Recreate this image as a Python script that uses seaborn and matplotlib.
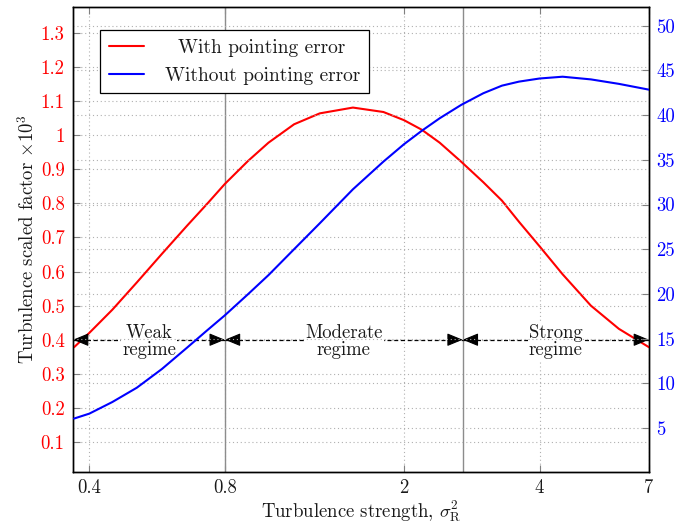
import matplotlib
matplotlib.use("Agg")
import matplotlib.pyplot as plt
import seaborn as sns
import pandas as pd
from matplotlib.ticker import FixedLocator, FixedFormatter, NullLocator

# Turbulence strength (Rytov variance) sample points
sigma_r2 = [0.37, 0.40, 0.45, 0.51, 0.58, 0.66, 0.73, 0.80, 0.90, 1.00, 1.14, 1.30,
            1.54, 1.80, 2.00, 2.19, 2.40, 2.68, 3.00, 3.30, 3.60, 4.00, 4.50, 5.20,
            6.00, 7.00]
# Scaled factor (x10^3), left axis
with_pe = [0.378, 0.420, 0.488, 0.568, 0.652, 0.735, 0.798, 0.857, 0.924, 0.978,
           1.032, 1.064, 1.081, 1.068, 1.044, 1.016, 0.978, 0.922, 0.862, 0.808,
           0.746, 0.674, 0.592, 0.500, 0.432, 0.378]
# Scaled factor, right axis
without_pe = [6.05, 6.6, 7.9, 9.5, 11.6, 14.0, 15.9, 17.6, 19.95, 22.1, 25.0, 27.9,
              31.7, 34.8, 36.75, 38.25, 39.65, 41.15, 42.45, 43.3, 43.75, 44.1, 44.3,
              44.0, 43.5, 42.85]

x_ticks = [0.4, 0.8, 2, 4, 7]
x_tick_labels = ["0.4", "0.8", "2", "4", "7"]
left_ticks = [0.1, 0.2, 0.3, 0.4, 0.5, 0.6, 0.7, 0.8, 0.9, 1.0, 1.1, 1.2, 1.3]
left_tick_labels = ["0.1", "0.2", "0.3", "0.4", "0.5", "0.6", "0.7", "0.8", "0.9",
                    "1", "1.1", "1.2", "1.3"]
right_ticks = [5, 10, 15, 20, 25, 30, 35, 40, 45, 50]
right_tick_labels = [str(t) for t in right_ticks]

regime_bounds = [0.368, 0.8, 2.7, 7.0]
regime_names = ["Weak\nregime", "Moderate\nregime", "Strong\nregime"]
regime_level = 0.4

sns.set_theme(style="white")
plt.rcParams["font.family"] = ["cmr10", "DejaVu Serif"]
plt.rcParams["mathtext.fontset"] = "cm"
plt.rcParams["axes.formatter.use_mathtext"] = True

FS = 13.5
TXT = "#1a1a1a"

df = pd.DataFrame({"s": sigma_r2, "w": with_pe, "wo": without_pe})

fig = plt.figure(figsize=(6.97, 5.27), dpi=100)
ax = fig.add_axes([73 / 697, 1 - 472 / 527, (649 - 73) / 697, (472 - 7) / 527])
ax2 = ax.twinx()

ax.set_xscale("log")
ax.set_xlim(0.368, 7.0)
ax.set_ylim(0.012, 1.376)
ax2.set_ylim(0.07, 52.1)

grid_kw = dict(color="#b0b0b0", linestyle=(0, (1, 2.5)), linewidth=0.8, zorder=0)
for t in x_ticks:
    ax.axvline(t, **grid_kw)
for t in left_ticks:
    ax.axhline(t, **grid_kw)
for t in right_ticks:
    ax2.axhline(t, **grid_kw)

for b in regime_bounds[1:3]:
    ax.axvline(b, color="#8c8c8c", linewidth=1.0, zorder=1)

sns.lineplot(data=df, x="s", y="w", ax=ax, color="#ff0000", linewidth=1.5,
             label="  With pointing error", legend=False, zorder=3)
sns.lineplot(data=df, x="s", y="wo", ax=ax2, color="#0000ff", linewidth=1.5,
             label="Without pointing error", legend=False, zorder=3)

# Regime spans: dashed line with a filled head at each end, label on top
head = dict(arrowstyle="-|>,head_length=0.8,head_width=0.33", color="black",
            linewidth=0.8, shrinkA=0, shrinkB=0)
for (a, b), name in zip(zip(regime_bounds[:-1], regime_bounds[1:]), regime_names):
    ax.plot([a, b], [regime_level, regime_level], color="black", linewidth=0.9,
            linestyle=(0, (3.2, 2.2)), zorder=4)
    ax.annotate("", xy=(a, regime_level), xytext=(7.5, 0),
                textcoords="offset points", arrowprops=head, zorder=5)
    ax.annotate("", xy=(b, regime_level), xytext=(-7.5, 0),
                textcoords="offset points", arrowprops=head, zorder=5)
    xc = (a * b) ** 0.5
    ax.text(xc, regime_level - 0.006, name, ha="center", va="center", fontsize=FS,
            linespacing=0.95, color=TXT, zorder=6,
            bbox=dict(facecolor="white", edgecolor="none", pad=1.0))

ax.xaxis.set_major_locator(FixedLocator(x_ticks))
ax.xaxis.set_major_formatter(FixedFormatter(x_tick_labels))
ax.xaxis.set_minor_locator(NullLocator())
ax.yaxis.set_major_locator(FixedLocator(left_ticks))
ax.yaxis.set_major_formatter(FixedFormatter(left_tick_labels))
ax2.yaxis.set_major_locator(FixedLocator(right_ticks))
ax2.yaxis.set_major_formatter(FixedFormatter(right_tick_labels))

ax.tick_params(axis="x", which="major", direction="in", length=5, width=0.8,
               color="#808080", labelsize=FS, labelcolor=TXT, pad=5,
               top=True, bottom=True)
ax.tick_params(axis="y", which="major", direction="in", length=5, width=0.8,
               color="#808080", labelsize=FS, labelcolor="#ff0000", pad=6,
               left=True, right=False)
ax2.tick_params(axis="y", which="major", direction="in", length=5, width=0.8,
                color="#808080", labelsize=FS, labelcolor="#0000ff", pad=5,
                left=False, right=True)

for a_ in (ax, ax2):
    for sp in a_.spines.values():
        sp.set_color("black")
        sp.set_linewidth(1.0)

ax.set_xlabel(r"Turbulence strength, $\sigma_\mathrm{R}^2$", fontsize=FS,
              color=TXT, labelpad=1)
ax.set_ylabel(r"Turbulence scaled factor $\times 10^3$", fontsize=FS,
              color=TXT, labelpad=2)
ax2.set_ylabel("")

h1, l1 = ax.get_legend_handles_labels()
h2, l2 = ax2.get_legend_handles_labels()
leg = ax2.legend(h1 + h2, l1 + l2, loc="upper left",
                 bbox_to_anchor=(0.047, 0.95), fontsize=14, frameon=True,
                 fancybox=False, shadow=False, framealpha=1, edgecolor="black",
                 borderpad=0.45, labelspacing=0.5, handlelength=1.8,
                 handletextpad=1.1, borderaxespad=0)
leg.get_frame().set_linewidth(0.9)
for t in leg.get_texts():
    t.set_color(TXT)
leg.set_zorder(10)

fig.savefig("out.png", dpi=100)
